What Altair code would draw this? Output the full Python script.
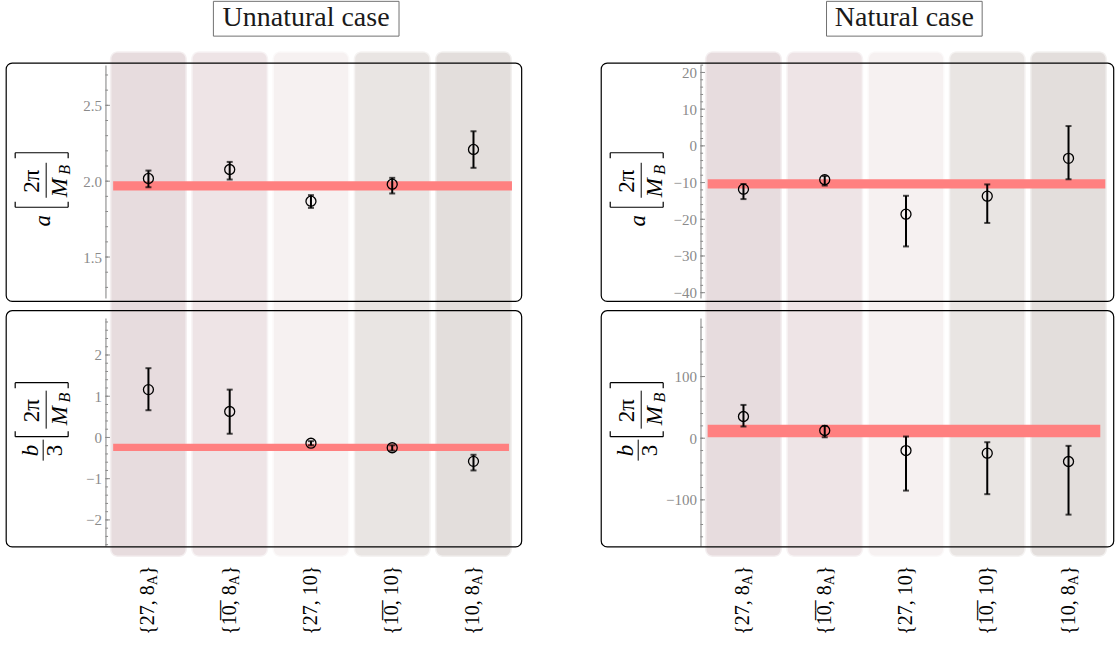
import altair as alt
import numpy as np
import pandas as pd

# ---------------- data ----------------
# column labels (drawn as rotated text under the lower panels)
cat_main = ["{27, 8", "{1\u03050\u0305, 8", "{27, 10}", "{1\u03050\u0305, 10}", "{10, 8"]
cat_sub = ["A", "A", "", "", "A"]
cat_close = ["}", "}", "", "", "}"]
band_colors = ["#e7dcde", "#eee4e6", "#f6f1f1", "#e9e5e3", "#e3dedc"]

# Unnatural case
a_un = [2.018, 2.077, 1.868, 1.980, 2.209]
a_un_lo = [1.960, 2.011, 1.824, 1.919, 2.088]
a_un_hi = [2.070, 2.127, 1.908, 2.022, 2.329]
a_un_fit = [1.939, 2.000]

b_un = [1.16, 0.63, -0.14, -0.25, -0.58]
b_un_lo = [0.66, 0.09, -0.19, -0.32, -0.80]
b_un_hi = [1.68, 1.16, -0.09, -0.19, -0.42]
b_un_fit = [-0.33, -0.15]

# Natural case
a_na = [-11.8, -9.2, -18.6, -13.7, -3.4]
a_na_lo = [-14.5, -10.8, -27.4, -21.0, -9.1]
a_na_hi = [-10.4, -8.2, -13.6, -10.5, 5.4]
a_na_fit = [-11.6, -9.1]

b_na = [35.2, 12.5, -20.0, -24.3, -37.8]
b_na_lo = [19.0, 1.5, -85.0, -90.8, -124.0]
b_na_hi = [54.0, 20.0, 2.7, -6.5, -12.4]
b_na_fit = [1.6, 21.7]

# ---------------- styling ----------------
FONT = "Liberation Serif"
STEP = 81.3   # pixels between column centres
OFF = 43.0    # first column centre, pixels from the y axis
ONE = pd.DataFrame({"k": [0]})
TOP_H, BOT_H = 233, 228


def seg(x1, y1, x2, y2, w=1.1, color="black"):
    return alt.Chart(ONE).mark_rule(strokeWidth=w, color=color).encode(
        x=alt.value(x1), x2=alt.value(x2), y=alt.value(y1), y2=alt.value(y2))


def txt(s, x, y, size, italic=False, align="center", baseline="middle",
        angle=270, dy=0, color="black"):
    return alt.Chart(ONE).mark_text(
        text=s, font=FONT, fontSize=size,
        fontStyle="italic" if italic else "normal",
        align=align, baseline=baseline, angle=angle, dy=dy, color=color,
    ).encode(x=alt.value(x), y=alt.value(y))


def bracket(y_line, y_tip, x0=-90.3, x1=-37.3):
    return [seg(x0, y_line, x1, y_line, 1.2), seg(x0, y_line, x0, y_tip, 1.2),
            seg(x1, y_line, x1, y_tip, 1.2)]


def ylabel_top():
    return ([txt("a", -62.3, 155.7, 23, italic=True),
             txt("2\u03c0", -73.3, 116.2, 23),
             seg(-59.3, 97.7, -59.3, 132.7, 1.0),
             txt("M", -45.3, 122.7, 23, italic=True),
             txt("B", -40.3, 104.7, 16, italic=True)]
            + bracket(142.2, 136.7) + bracket(87.7, 93.2))


def ylabel_bottom():
    return ([txt("b", -74.3, 132.7, 23, italic=True),
             txt("3", -50.3, 132.7, 23),
             seg(-62.3, 121.7, -62.3, 142.7, 1.0),
             txt("2\u03c0", -73.3, 92.7, 23),
             seg(-59.3, 72.7, -59.3, 110.7, 1.0),
             txt("M", -45.3, 97.7, 23, italic=True),
             txt("B", -40.3, 79.7, 16, italic=True)]
            + bracket(118.7, 113.2) + bracket(64.7, 70.2))


def panel(vals, lo, hi, fit, ydom, major, minor, fmt, W, H, red_x, frame_y,
          top, title=None, title_box=None):
    df = pd.DataFrame({"i": range(5), "v": vals, "lo": lo, "hi": hi})
    xs = alt.Scale(domain=[-OFF / STEP, (W - OFF) / STEP], nice=False, zero=False)
    ys = alt.Scale(domain=ydom, nice=False, zero=False)
    yax = alt.Axis(values=major, format=fmt, ticks=False, grid=False,
                   domainColor="#8a8a8a", domainWidth=1.1,
                   labelColor="#8a8a8a", labelFont=FONT, labelFontSize=15,
                   labelPadding=4)
    X = alt.X("i:Q", scale=xs, axis=None)

    def Y(f):
        return alt.Y(f, scale=ys, axis=yax, title="")

    layers = []
    if top:
        bands = pd.DataFrame({"x0": [i - 0.455 for i in range(5)],
                              "x1": [i + 0.455 for i in range(5)],
                              "h0": [i - 0.474 for i in range(5)],
                              "h1": [i + 0.474 for i in range(5)],
                              "c": band_colors})
        # soft halo round each column band, then the band itself
        layers.append(alt.Chart(bands).mark_rect(cornerRadius=8, opacity=0.45).encode(
            x=alt.X("h0:Q", scale=xs, axis=None), x2="h1",
            y=alt.value(-13.8), y2=alt.value(492.2),
            color=alt.Color("c:N", scale=None)))
        layers.append(alt.Chart(bands).mark_rect(cornerRadius=6).encode(
            x=alt.X("x0:Q", scale=xs, axis=None), x2="x1",
            y=alt.value(-12.3), y2=alt.value(490.7),
            color=alt.Color("c:N", scale=None)))

    # fitted value with its uncertainty
    fit_df = pd.DataFrame({"lo": [fit[0]], "hi": [fit[1]]})
    layers.append(alt.Chart(fit_df).mark_rect(color="#ff8080").encode(
        x=alt.value(red_x[0]), x2=alt.value(red_x[1]),
        y=Y("lo:Q"), y2="hi"))

    # panel frame
    layers.append(alt.Chart(ONE).mark_rect(
        fillOpacity=0, stroke="black", strokeWidth=1.2, cornerRadius=6).encode(
        x=alt.value(-99.3), x2=alt.value(W + 0.4),
        y=alt.value(frame_y[0]), y2=alt.value(frame_y[1])))

    # inward ticks on the y axis
    layers.append(alt.Chart(pd.DataFrame({"t": minor})).mark_rule(
        color="#8a8a8a", strokeWidth=1).encode(
        y=Y("t:Q"), x=alt.value(0), x2=alt.value(2.6)))
    layers.append(alt.Chart(pd.DataFrame({"t": major})).mark_rule(
        color="#8a8a8a", strokeWidth=1).encode(
        y=Y("t:Q"), x=alt.value(0), x2=alt.value(4.5)))

    # error bars and points
    base = alt.Chart(df)
    layers.append(base.mark_rule(strokeWidth=2, color="black").encode(
        x=X, y=Y("lo:Q"), y2="hi"))
    layers.append(base.mark_tick(orient="horizontal", thickness=2, size=6,
                                 color="black").encode(x=X, y=Y("lo:Q")))
    layers.append(base.mark_tick(orient="horizontal", thickness=2, size=6,
                                 color="black").encode(x=X, y=Y("hi:Q")))
    layers.append(base.mark_point(shape="circle", filled=False, size=100,
                                  strokeWidth=1.3, color="black", opacity=1).encode(
        x=X, y=Y("v:Q")))

    if top:
        layers += ylabel_top()
        bx0, bx1, cx = title_box
        layers.append(alt.Chart(ONE).mark_rect(
            fillOpacity=0, stroke="#707070", strokeWidth=1).encode(
            x=alt.value(bx0), x2=alt.value(bx1),
            y=alt.value(-63.8), y2=alt.value(-29.0)))
        layers.append(txt(title, cx, -39.3, 28, angle=0, baseline="alphabetic",
                          color="#1a1a1a"))
    else:
        layers += ylabel_bottom()
        lab = pd.DataFrame({"i": range(5), "main": cat_main,
                            "sub": cat_sub, "close": cat_close})
        plain = lab[lab["sub"] == ""]
        subbed = lab[lab["sub"] != ""]
        common = dict(font=FONT, angle=270, align="right", color="black")
        layers.append(alt.Chart(plain).mark_text(
            fontSize=20, baseline="middle", **common).encode(
            x=X, y=alt.value(247.7), text="main:N"))
        layers.append(alt.Chart(subbed).mark_text(
            fontSize=20, baseline="middle", **common).encode(
            x=X, y=alt.value(267.4), text="main:N"))
        layers.append(alt.Chart(subbed).mark_text(
            fontSize=14, baseline="alphabetic", dy=9, **common).encode(
            x=X, y=alt.value(257.3), text="sub:N"))
        layers.append(alt.Chart(subbed).mark_text(
            fontSize=20, baseline="middle", **common).encode(
            x=X, y=alt.value(247.7), text="close:N"))

    return alt.layer(*layers).properties(width=W, height=H)


r = lambda a, b, s: [round(v, 2) for v in np.arange(a, b + s / 2, s)]

LT = panel(a_un, a_un_lo, a_un_hi, a_un_fit, [1.23, 2.765],
           [1.5, 2.0, 2.5], r(1.3, 2.7, 0.1), ".1f", 416, TOP_H,
           (7.7, 406.7), (-2.0, 236.4), True, "Unnatural case", (108.0, 293.7, 200.7))
RT = panel(a_na, a_na_lo, a_na_hi, a_na_fit, [-41.45, 22.0],
           [-40, -30, -20, -10, 0, 10, 20], r(-40, 22, 2), "d", 413, TOP_H,
           (7.2, 405.0), (-2.0, 236.4), True, "Natural case", (126.1, 281.8, 203.9))
LB = panel(b_un, b_un_lo, b_un_hi, b_un_fit, [-2.63, 2.897],
           [-2, -1, 0, 1, 2], r(-2.6, 2.8, 0.2), "d", 416, BOT_H,
           (7.7, 403.7), (-7.3, 229.0), False)
RB = panel(b_na, b_na_lo, b_na_hi, b_na_fit, [-174.7, 195.0],
           [-100, 0, 100], r(-160, 180, 20), "d", 413, BOT_H,
           (7.2, 400.0), (-7.3, 229.0), False)

chart = alt.concat(
    LT, RT, LB, RB, columns=2,
    spacing={"row": 20, "column": 179.3},
    bounds="flush", align="each",
).properties(
    padding={"left": 5.5, "top": 0, "right": 0, "bottom": 0},
).configure_view(strokeWidth=0)

chart.save("out.html", embed_options={"renderer": "svg", "actions": False})
